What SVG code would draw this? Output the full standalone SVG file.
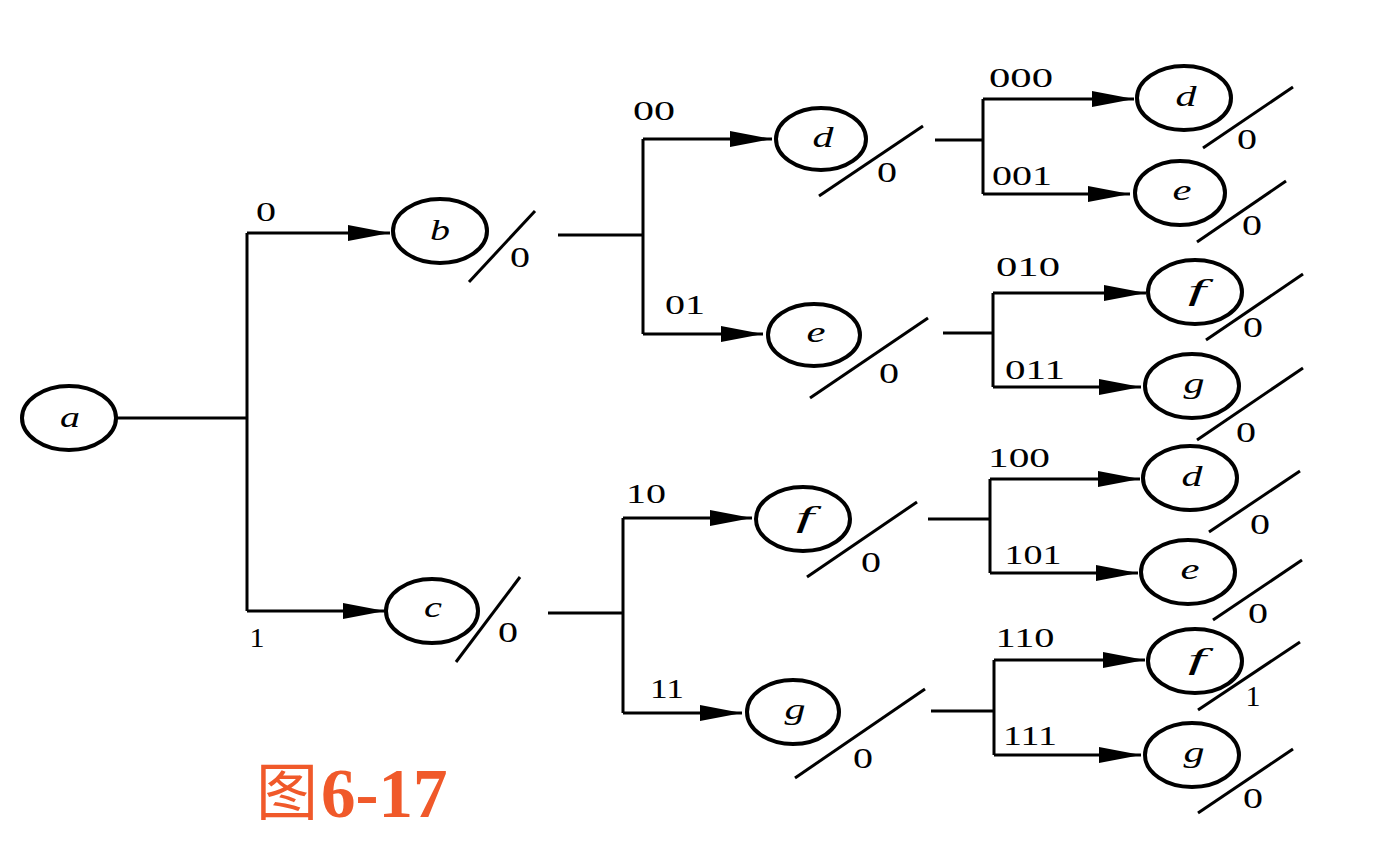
<svg xmlns="http://www.w3.org/2000/svg" width="1378" height="850" viewBox="0 0 1378 850">
<defs>
<marker id="arr" viewBox="0 0 42 16" markerWidth="42" markerHeight="16" markerUnits="userSpaceOnUse" refX="42" refY="8" orient="auto">
<path d="M0,0 L42,8 L0,16 Z" fill="#000"/>
</marker>
<style>
.conn{fill:none;stroke:#000;stroke-width:3}
.arrow{fill:none;stroke:#000;stroke-width:3;marker-end:url(#arr)}
.node ellipse{fill:#fff;stroke:#000;stroke-width:4}
.slash{stroke:#000;stroke-width:3}
.let{font-family:"Liberation Serif",serif;font-style:italic;font-size:30px;text-anchor:middle;fill:#000}
.w{font-family:"Liberation Serif",serif;font-size:30px;text-anchor:middle;fill:#000}
.lab{font-family:"Liberation Serif",serif;font-size:28px;text-anchor:middle;fill:#000}
.cap{fill:#F0592A}
</style>
</defs>
<rect width="1378" height="850" fill="#fff"/>
<g id="connectors">
<path class="conn" d="M117,418 H247 M247,233 V611"/>
<path class="arrow" d="M247,233 H390"/>
<path class="arrow" d="M247,611 H385"/>
<path class="conn" d="M558,235 H643 M643,139 V334"/>
<path class="arrow" d="M643,139 H772"/>
<path class="arrow" d="M643,334 H763"/>
<path class="conn" d="M548,613 H623 M623,518 V713"/>
<path class="arrow" d="M623,518 H752"/>
<path class="arrow" d="M623,713 H742"/>
<path class="conn" d="M935,140 H983 M983,99 V194"/>
<path class="arrow" d="M983,99 H1134"/>
<path class="arrow" d="M983,194 H1130"/>
<path class="conn" d="M943,333 H993 M993,293 V387"/>
<path class="arrow" d="M993,293 H1146"/>
<path class="arrow" d="M993,387 H1141"/>
<path class="conn" d="M928,519 H990 M990,479 V573"/>
<path class="arrow" d="M990,479 H1140"/>
<path class="arrow" d="M990,573 H1138"/>
<path class="conn" d="M931,711 H994 M994,660 V755"/>
<path class="arrow" d="M994,660 H1145"/>
<path class="arrow" d="M994,755 H1141"/>
<text class="lab" x="266" y="221" textLength="20" lengthAdjust="spacingAndGlyphs">0</text>
<text class="lab" x="257" y="647" textLength="15" lengthAdjust="spacingAndGlyphs">1</text>
<text class="lab" x="654" y="120" textLength="42" lengthAdjust="spacingAndGlyphs">00</text>
<text class="lab" x="685" y="314" textLength="40" lengthAdjust="spacingAndGlyphs">01</text>
<text class="lab" x="646" y="503" textLength="40" lengthAdjust="spacingAndGlyphs">10</text>
<text class="lab" x="667" y="698" textLength="34" lengthAdjust="spacingAndGlyphs">11</text>
<text class="lab" x="1021" y="87" textLength="64" lengthAdjust="spacingAndGlyphs">000</text>
<text class="lab" x="1022" y="185" textLength="60" lengthAdjust="spacingAndGlyphs">001</text>
<text class="lab" x="1028" y="276" textLength="64" lengthAdjust="spacingAndGlyphs">010</text>
<text class="lab" x="1035" y="379" textLength="60" lengthAdjust="spacingAndGlyphs">011</text>
<text class="lab" x="1019" y="467" textLength="62" lengthAdjust="spacingAndGlyphs">100</text>
<text class="lab" x="1033" y="564" textLength="57" lengthAdjust="spacingAndGlyphs">101</text>
<text class="lab" x="1025" y="647" textLength="59" lengthAdjust="spacingAndGlyphs">110</text>
<text class="lab" x="1030" y="745" textLength="54" lengthAdjust="spacingAndGlyphs">111</text>
</g>
<g id="node-a" class="node"><ellipse cx="69" cy="418" rx="47" ry="32"/><text class="let" x="70" y="427" textLength="20" lengthAdjust="spacingAndGlyphs">a</text></g>
<g id="node-b" class="node"><ellipse cx="440" cy="231" rx="47" ry="32"/><text class="let" x="440" y="240" textLength="20" lengthAdjust="spacingAndGlyphs">b</text>
<line class="slash" x1="469" y1="282" x2="535" y2="211"/><text class="w" x="520" y="267" textLength="20" lengthAdjust="spacingAndGlyphs">0</text></g>
<g id="node-c" class="node"><ellipse cx="432" cy="611" rx="46" ry="32"/><text class="let" x="433" y="617" textLength="18" lengthAdjust="spacingAndGlyphs">c</text>
<line class="slash" x1="456" y1="662" x2="520" y2="577"/><text class="w" x="508" y="642" textLength="20" lengthAdjust="spacingAndGlyphs">0</text></g>
<g id="node-d2" class="node"><ellipse cx="821" cy="139" rx="45" ry="31"/><text class="let" x="823" y="147" textLength="21" lengthAdjust="spacingAndGlyphs">d</text>
<line class="slash" x1="819" y1="196" x2="923" y2="126"/><text class="w" x="887" y="182" textLength="20" lengthAdjust="spacingAndGlyphs">0</text></g>
<g id="node-e2" class="node"><ellipse cx="814" cy="335" rx="46" ry="31"/><text class="let" x="816" y="342" textLength="19" lengthAdjust="spacingAndGlyphs">e</text>
<line class="slash" x1="810" y1="398" x2="928" y2="318"/><text class="w" x="889" y="383" textLength="20" lengthAdjust="spacingAndGlyphs">0</text></g>
<g id="node-f2" class="node"><ellipse cx="803" cy="519" rx="47" ry="32"/><text class="let" x="805" y="527" textLength="18" lengthAdjust="spacingAndGlyphs">f</text>
<line class="slash" x1="807" y1="577" x2="917" y2="502"/><text class="w" x="871" y="572" textLength="20" lengthAdjust="spacingAndGlyphs">0</text></g>
<g id="node-g2" class="node"><ellipse cx="793" cy="712" rx="46" ry="32"/><text class="let" x="795" y="719" textLength="21" lengthAdjust="spacingAndGlyphs">g</text>
<line class="slash" x1="795" y1="778" x2="925" y2="689"/><text class="w" x="863" y="768" textLength="20" lengthAdjust="spacingAndGlyphs">0</text></g>
<g id="node-d3" class="node"><ellipse cx="1184" cy="98" rx="47" ry="32"/><text class="let" x="1186" y="106" textLength="21" lengthAdjust="spacingAndGlyphs">d</text>
<line class="slash" x1="1203" y1="148" x2="1293" y2="87"/><text class="w" x="1247" y="149" textLength="20" lengthAdjust="spacingAndGlyphs">0</text></g>
<g id="node-e3" class="node"><ellipse cx="1180" cy="193" rx="45" ry="32"/><text class="let" x="1182" y="200" textLength="19" lengthAdjust="spacingAndGlyphs">e</text>
<line class="slash" x1="1197" y1="242" x2="1286" y2="181"/><text class="w" x="1252" y="235" textLength="20" lengthAdjust="spacingAndGlyphs">0</text></g>
<g id="node-f3" class="node"><ellipse cx="1195" cy="292" rx="47" ry="32"/><text class="let" x="1197" y="300" textLength="18" lengthAdjust="spacingAndGlyphs">f</text>
<line class="slash" x1="1206" y1="340" x2="1303" y2="274"/><text class="w" x="1253" y="337" textLength="20" lengthAdjust="spacingAndGlyphs">0</text></g>
<g id="node-g3" class="node"><ellipse cx="1192" cy="386" rx="47" ry="32"/><text class="let" x="1194" y="393" textLength="21" lengthAdjust="spacingAndGlyphs">g</text>
<line class="slash" x1="1197" y1="440" x2="1303" y2="368"/><text class="w" x="1246" y="442" textLength="20" lengthAdjust="spacingAndGlyphs">0</text></g>
<g id="node-d4" class="node"><ellipse cx="1190" cy="478" rx="47" ry="32"/><text class="let" x="1192" y="486" textLength="21" lengthAdjust="spacingAndGlyphs">d</text>
<line class="slash" x1="1209" y1="532" x2="1300" y2="471"/><text class="w" x="1260" y="534" textLength="20" lengthAdjust="spacingAndGlyphs">0</text></g>
<g id="node-e4" class="node"><ellipse cx="1188" cy="572" rx="47" ry="32"/><text class="let" x="1190" y="579" textLength="19" lengthAdjust="spacingAndGlyphs">e</text>
<line class="slash" x1="1213" y1="620" x2="1302" y2="560"/><text class="w" x="1258" y="623" textLength="20" lengthAdjust="spacingAndGlyphs">0</text></g>
<g id="node-f4" class="node"><ellipse cx="1195" cy="661" rx="47" ry="32"/><text class="let" x="1197" y="669" textLength="18" lengthAdjust="spacingAndGlyphs">f</text>
<line class="slash" x1="1198" y1="710" x2="1300" y2="642"/><text class="w" x="1253" y="706" textLength="15" lengthAdjust="spacingAndGlyphs">1</text></g>
<g id="node-g4" class="node"><ellipse cx="1192" cy="755" rx="47" ry="32"/><text class="let" x="1194" y="762" textLength="21" lengthAdjust="spacingAndGlyphs">g</text>
<line class="slash" x1="1198" y1="813" x2="1293" y2="749"/><text class="w" x="1253" y="808" textLength="20" lengthAdjust="spacingAndGlyphs">0</text></g>
<g id="caption">
<text class="cap" x="256" y="815" font-family="'Noto Sans CJK SC',sans-serif" font-size="62">图</text>
<text class="cap" x="321" y="817" font-family="'Liberation Serif',serif" font-weight="bold" font-size="69">6-17</text>
</g>
</svg>
